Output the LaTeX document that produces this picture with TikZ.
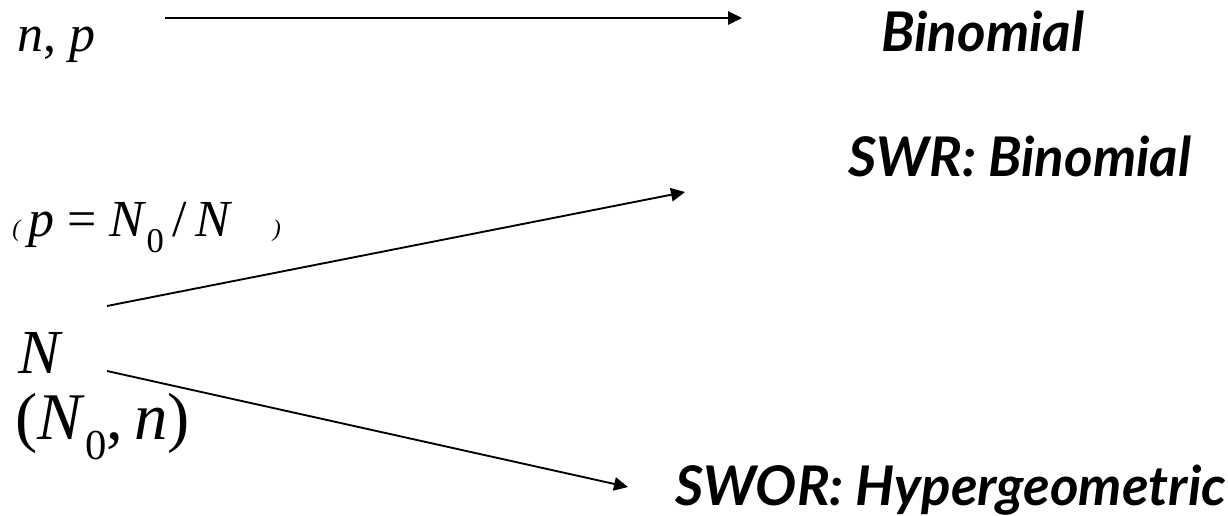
\documentclass[tikz,border=0pt]{standalone}
\usepackage{fontspec}
\setmainfont{Liberation Serif}
\setsansfont{Lato}
\usetikzlibrary{positioning,arrows.meta}
\tikzset{
	%estils
	mat/.style = {anchor=base west, inner sep=0pt, font=\fontsize{39}{44}\selectfont},
	dist/.style = {anchor=base west, inner sep=0pt, font=\sffamily\bfseries\itshape\fontsize{41}{46}\selectfont},
	fle/.style = {-{Triangle[length=10.5pt,width=10pt]}, line width=1.4pt}
}
\newcommand{\subz}[1]{\raisebox{-0.3em}{\fontsize{#1}{#1}\selectfont 0}}
\newcommand{\petit}[1]{{\fontsize{18}{18}\selectfont\itshape #1}}
\begin{document}
\begin{tikzpicture}[x=0.75pt,y=-0.75pt]
	\useasboundingbox (0,0) rectangle (1228,516);
	%nodes
	\node[mat] (np)   at (17, 52)  {\textit{n}, \textit{p}};
	\node[dist] (bin)  at (881, 52)  {Binomial};
	\node[dist] (swr)  at (848, 177) {SWR: Binomial};
	\node[mat] (pN)   at (12, 237) {\petit{(}\hspace{6pt}\textit{p} = \textit{N}\subz{26}\,/\,\textit{N}\hspace{30pt}\petit{)}};
	\node[mat, font=\fontsize{47}{52}\selectfont] (N)  at (18, 374) {\textit{N}};
	\node[mat, font=\fontsize{50}{55}\selectfont] (Nn) at (15, 440) {(\textit{N}\subz{32},\,\textit{n})};
	\node[dist] (swor) at (675, 505) {SWOR: Hypergeometric};
	%punts
	\coordinate (a0) at (165, 18);
	\coordinate (a1) at (742, 18);
	\coordinate (b0) at (107, 306);
	\coordinate (b1) at (685, 192);
	\coordinate (c0) at (107, 371);
	\coordinate (c1) at (628, 487);
	%arrows
	\draw[fle] (a0) -- (a1);
	\draw[fle] (b0) -- (b1);
	\draw[fle] (c0) -- (c1);
\end{tikzpicture}
\end{document}
